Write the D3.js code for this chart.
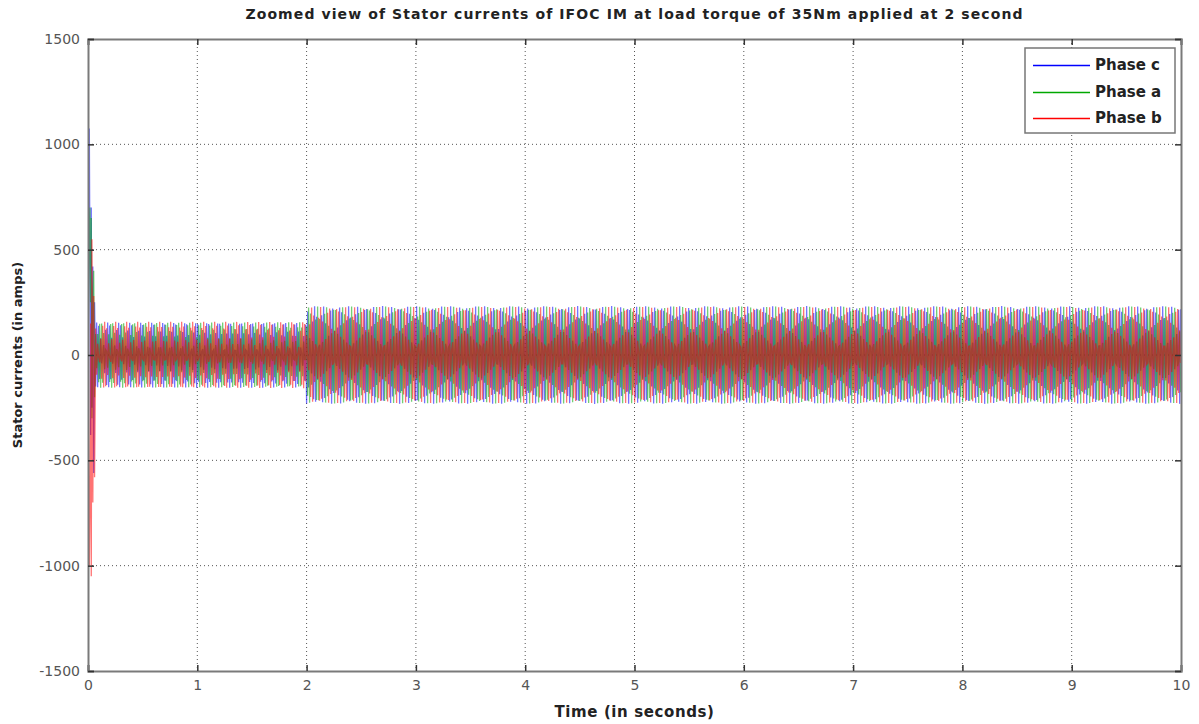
<!DOCTYPE html>
<html><head><meta charset="utf-8">
<script src="https://cdn.jsdelivr.net/npm/d3@7"></script>
<style>body{margin:0;background:#fff}</style>
</head><body><svg id="c" width="1199" height="724"></svg>
<script>
// ---- data ----
const xTicks = [0,1,2,3,4,5,6,7,8,9,10];
const yTicks = [-1500,-1000,-500,0,500,1000,1500];
const seriesNames = ["Phase c","Phase a","Phase b"];
const seriesColors = ["#0000ff","#00a800","#ff0000"];
// start-up transient samples (s, A)
const transientTime = [0, 0.012, 0.018, 0.024, 0.03, 0.036, 0.044, 0.052, 0.06, 0.07];
const transientC = [0, 1075, 350, -380, 700, -250, 420, -560, 250, -150];
const transientA = [0, 600, 700, 250, 650, -300, 300, 400, -200, 100];
const transientB = [0, -1000, -700, 150, -1050, 550, -700, 280, -580, 80];
// steady-state segments: before and after load torque step at 2 s
const segmentStart = [0.07, 2];
const segmentEnd = [2, 10];
const amplitudeC = [155, 232];
const amplitudeA = [155, 230];
const amplitudeB = [158, 228];
const supplyFreq = [49.7, 48.2];     // Hz
const phaseShiftDeg = [120, 0, -120];
const logStep = 0.00915;             // logged sample time (s)

// ---- build series ----
const transients = [transientC, transientA, transientB];
const amps = [amplitudeC, amplitudeA, amplitudeB];
const series = seriesNames.map((name, k) => {
  const pts = transientTime.map((t, i) => ({t, v: transients[k][i]}));
  segmentStart.forEach((s, j) => {
    for (let t = s; t < segmentEnd[j] + 1e-9; t += logStep) {
      pts.push({t, v: amps[k][j] * Math.sin(2*Math.PI*supplyFreq[j]*t + phaseShiftDeg[k]*Math.PI/180)});
    }
  });
  return {name, color: seriesColors[k], pts};
});

// ---- layout ----
const svg = d3.select("#c");
const L = 88, R = 1181, T = 39, B = 671;
const x = d3.scaleLinear().domain([0,10]).range([L,R]);
const y = d3.scaleLinear().domain([-1500,1500]).range([B,T]);
const FONT = "DejaVu Sans, sans-serif";

// grid
const g = svg.append("g");
g.selectAll(".gx").data(xTicks.slice(1,-1)).enter().append("line")
  .attr("x1", d=>x(d)).attr("x2", d=>x(d)).attr("y1", T).attr("y2", B)
  .attr("stroke","#555").attr("stroke-width",1).attr("stroke-dasharray","1,3");
g.selectAll(".gy").data(yTicks.slice(1,-1)).enter().append("line")
  .attr("y1", d=>y(d)).attr("y2", d=>y(d)).attr("x1", L).attr("x2", R)
  .attr("stroke","#555").attr("stroke-width",1).attr("stroke-dasharray","1,3");

// lines
svg.append("clipPath").attr("id","clip").append("rect")
  .attr("x",L).attr("y",T).attr("width",R-L).attr("height",B-T);
const line = d3.line().x(d=>x(d.t)).y(d=>y(d.v));
svg.append("g").attr("clip-path","url(#clip)").selectAll("path").data(series).enter().append("path")
  .attr("d", d=>line(d.pts)).attr("fill","none").attr("stroke", d=>d.color)
  .attr("stroke-width",1.3).attr("stroke-opacity",0.55);

// axes
const axisColor = "#7a7a7a";
const fmt = d => String(d);
const xb = svg.append("g").attr("transform",`translate(0,${B})`)
  .call(d3.axisBottom(x).tickValues(xTicks).tickSize(-6).tickPadding(9).tickFormat(fmt));
const xt = svg.append("g").attr("transform",`translate(0,${T})`)
  .call(d3.axisTop(x).tickValues(xTicks).tickSize(-6).tickFormat(""));
const yl = svg.append("g").attr("transform",`translate(${L},0)`)
  .call(d3.axisLeft(y).tickValues(yTicks).tickSize(-6).tickPadding(8).tickFormat(fmt));
const yr = svg.append("g").attr("transform",`translate(${R},0)`)
  .call(d3.axisRight(y).tickValues(yTicks).tickSize(-6).tickFormat(""));
[xb,xt,yl,yr].forEach(a => {
  a.select(".domain").attr("stroke",axisColor).attr("stroke-width",2);
  a.selectAll(".tick line").attr("stroke","#333").attr("stroke-width",1.5);
  a.selectAll("text").attr("fill","#555").style("font-family",FONT).style("font-size","14px");
});

// title and labels
svg.append("text").attr("x",(L+R)/2).attr("y",19).attr("text-anchor","middle")
  .style("font-family",FONT).style("font-weight","bold").style("font-size","14px").style("letter-spacing","1.1px")
  .attr("fill","#222").text("Zoomed view of Stator currents of IFOC IM at load torque of 35Nm applied at 2 second");
svg.append("text").attr("x",(L+R)/2).attr("y",717).attr("text-anchor","middle")
  .style("font-family",FONT).style("font-weight","bold").style("font-size","15px").style("letter-spacing","0.6px")
  .attr("fill","#222").text("Time  (in seconds)");
svg.append("text").attr("transform",`translate(22,${(T+B)/2}) rotate(-90)`).attr("text-anchor","middle")
  .style("font-family",FONT).style("font-weight","bold").style("font-size","13px")
  .attr("fill","#222").text("Stator currents (in amps)");

// legend
const lg = svg.append("g");
lg.append("rect").attr("x",1025).attr("y",48).attr("width",150).attr("height",85)
  .attr("fill","#fff").attr("stroke","#777").attr("stroke-width",1.5);
const ly = d3.scalePoint().domain(seriesNames).range([65,118]);
series.forEach(s => {
  lg.append("line").attr("x1",1033).attr("x2",1090).attr("y1",Math.round(ly(s.name))+0.5).attr("y2",Math.round(ly(s.name))+0.5)
    .attr("stroke",s.color).attr("stroke-width",1.5);
  lg.append("text").attr("x",1095).attr("y",ly(s.name)+5)
    .style("font-family",FONT).style("font-weight","bold").style("font-size","15px")
    .attr("fill","#222").text(s.name);
});
</script></body></html>
